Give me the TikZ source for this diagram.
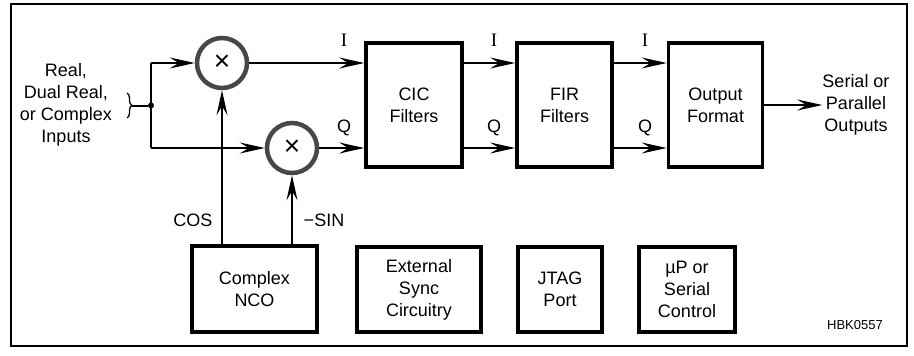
\documentclass[tikz,border=0pt]{standalone}
\usepackage{fontspec}
\setmainfont{Liberation Sans}
\newfontfamily\serifI{Liberation Serif}
\usetikzlibrary{arrows.meta,decorations.pathreplacing}
\begin{document}
\begin{tikzpicture}[x=1pt,y=-1pt,
  txt/.style={font=\fontsize{18}{22}\selectfont, align=center, inner sep=0pt},
  blk/.style={draw, line width=3.6pt, rectangle, inner sep=0pt, font=\fontsize{18}{22}\selectfont, align=center},
  mix/.style={draw=black!72, line width=4.5pt, circle, minimum size=50pt, inner sep=0pt, font=\fontsize{28}{28}\selectfont},
  conn/.style={line width=2pt},
  arr/.style={line width=2pt, -{Stealth[length=25pt,width=11pt,inset=9pt]}},
  lab/.style={font=\fontsize{18}{22}\selectfont, inner sep=0pt},
  labI/.style={font=\serifI\fontsize{19}{22}\selectfont, inner sep=0pt}]
\useasboundingbox (0,0) rectangle (914,356);
\draw[line width=1.8pt] (11,4) rectangle (907,346);

% input text and brace
\node[txt] (in) at (66,105) {Real,\\Dual Real,\\or Complex\\Inputs};
\coordinate (brt) at (127,93);
\coordinate (brb) at (127,118);
\draw[line width=1.3pt, decorate, decoration={brace, amplitude=5pt}] (brt) -- (brb);
\coordinate (brtip) at (132,105.5);
\node[circle, fill, inner sep=0pt, minimum size=6pt] (dot) at (151,105.5) {};
\draw[conn] (brtip) -- (dot);

% mixers
\node[mix] (m1) at (222,63) {×};
\node[mix] (m2) at (292,148) {×};

% bus
\coordinate (bt) at (151,63);
\coordinate (bb) at (151,148);
\draw[conn] (bt) -- (bb);
\draw[arr] (bt) -- (m1.west);
\draw[arr] (bb) -- (m2.west);

% blocks
\node[blk, minimum width=96pt, minimum height=124pt] (cic) at (414,105) {CIC\\Filters};
\node[blk, minimum width=95pt, minimum height=124pt] (fir) at (564.5,105) {FIR\\Filters};
\node[blk, minimum width=94pt, minimum height=124pt] (out) at (715.5,105) {Output\\Format};

\node[blk, minimum width=125pt, minimum height=86pt] (nco) at (254.5,289) {Complex\\NCO};
\node[blk, minimum width=124pt, minimum height=85pt] (ext) at (419,289.5) {External\\Sync\\Circuitry};
\node[blk, minimum width=84pt, minimum height=85pt] (jtag) at (560,289.5) {JTAG\\Port};
\node[blk, minimum width=96pt, minimum height=85pt] (up) at (687,289.5) {µP or\\Serial\\Control};

% I/Q paths
\draw[arr] (m1.east) -- (m1.east -| cic.west);
\draw[arr] (m2.east) -- (m2.east -| cic.west);
\draw[arr] (cic.east |- m1.east) -- (fir.west |- m1.east);
\draw[arr] (cic.east |- m2.east) -- (fir.west |- m2.east);
\draw[arr] (fir.east |- m1.east) -- (out.west |- m1.east);
\draw[arr] (fir.east |- m2.east) -- (out.west |- m2.east);

\node[labI] (i1) at (344,40) {I};
\node[labI] (i2) at (494,40) {I};
\node[labI] (i3) at (645,40) {I};
\node[lab] (q1) at (344,128) {Q};
\node[lab] (q2) at (494,128) {Q};
\node[lab] (q3) at (645,128) {Q};

% output
\node[txt] (so) at (856,105) {Serial or\\Parallel\\Outputs};
\draw[arr] (out.east |- so.west) -- (so.west);

% NCO feeds
\draw[arr] (nco.north -| m1.south) -- (m1.south);
\draw[arr] (nco.north -| m2.south) -- (m2.south);
\node[lab] (cos) at (193,220) {COS};
\node[lab] (sin) at (324,220) {−SIN};

\node[font=\fontsize{13}{15}\selectfont, inner sep=0pt] (hbk) at (855,325) {HBK0557};
\end{tikzpicture}
\end{document}
